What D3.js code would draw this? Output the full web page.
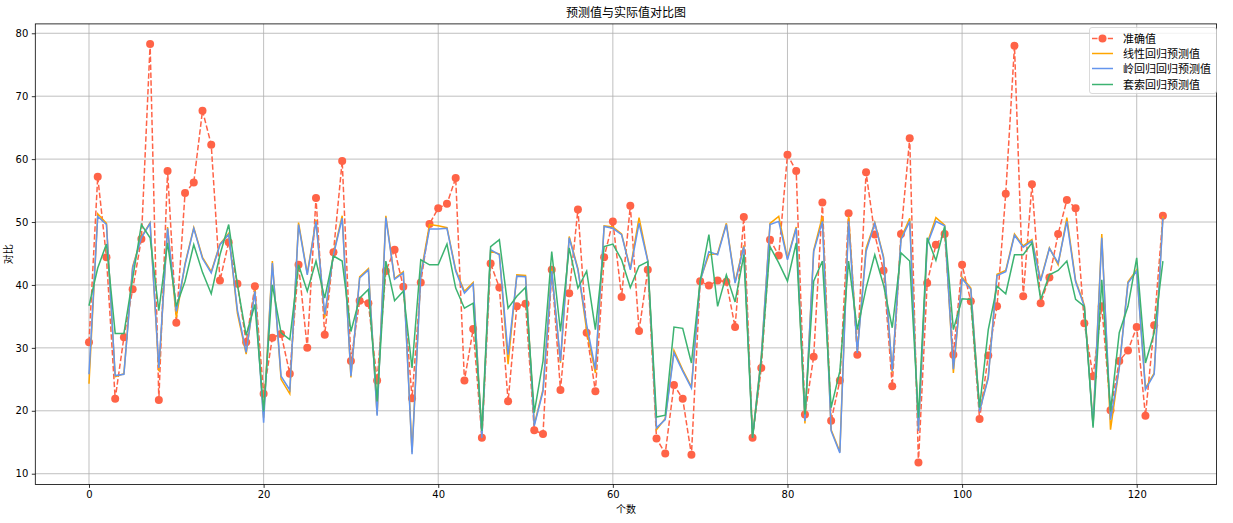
<!DOCTYPE html>
<html><head><meta charset="utf-8">
<script src="https://cdn.jsdelivr.net/npm/d3@7"></script>
<style>body{margin:0;background:#fff}svg{display:block}text{font-family:"DejaVu Sans",sans-serif}</style>
</head><body><svg id="c" width="1233" height="523"></svg>
<script>
const actual = [30.9,57.2,44.4,21.9,31.7,39.3,47.3,78.3,21.7,58.1,34.0,54.6,56.3,67.7,62.3,40.7,46.8,40.2,30.9,39.8,
22.7,31.6,32.2,25.9,43.2,30.0,53.8,32.1,45.2,59.7,27.9,37.5,37.1,24.8,42.2,45.6,39.7,22.0,40.4,49.7,
52.2,52.9,57.0,24.8,33.0,15.7,43.4,39.6,21.5,36.6,37.0,16.9,16.3,42.4,23.3,38.7,52.0,32.4,23.1,44.4,
50.1,38.1,52.6,32.7,42.4,15.6,13.2,24.1,21.9,13.0,40.6,39.9,40.7,40.5,33.3,50.8,15.7,26.8,47.2,44.7,
60.7,58.1,19.4,28.6,53.1,18.4,24.8,51.4,28.9,57.9,48.0,42.3,23.9,48.1,63.3,11.8,40.3,46.4,48.1,28.9,
43.2,37.4,18.7,28.8,36.6,54.5,78.0,38.2,56.0,37.1,41.2,48.1,53.5,52.2,33.9,25.5,36.6,20.1,27.9,29.6,
33.3,19.2,33.6,51.0];
const linear = [24.3,51.3,49.8,25.4,25.9,42.9,47.6,49.9,26.3,49.2,34.8,43.4,49.1,44.4,42.1,46.5,48.2,35.5,29.0,39.2,
18.9,43.8,25.0,22.7,49.9,41.8,50.3,34.8,45.0,51.0,25.3,41.3,42.6,19.4,51.0,41.0,42.1,13.4,41.7,49.6,
49.4,49.1,42.4,39.0,40.4,15.9,45.4,44.9,27.4,41.6,41.5,17.8,23.4,42.4,27.6,47.7,42.6,32.8,26.0,49.4,
49.2,48.1,42.6,50.7,43.9,17.0,18.8,29.6,26.5,23.8,40.8,44.8,45.0,49.8,40.5,46.3,15.9,28.6,49.8,50.9,
44.2,49.2,18.0,45.5,50.9,17.0,13.5,50.9,29.4,45.8,49.9,44.5,26.1,47.4,50.6,17.0,46.6,50.7,49.5,26.0,
41.2,39.5,20.1,25.4,41.7,42.3,48.1,46.2,47.2,40.8,45.9,43.2,50.7,40.7,36.8,17.8,48.1,17.0,26.9,40.5,
42.4,23.6,26.0,50.9];
const ridge = [25.8,50.9,49.6,25.6,25.8,42.7,47.5,49.8,26.8,49.0,35.8,43.2,49.0,44.2,41.9,46.4,48.0,36.0,29.3,39.0,
18.1,43.5,25.5,23.3,49.6,41.6,50.1,35.3,44.8,50.6,25.5,41.1,42.4,19.2,50.7,40.9,41.9,13.1,41.5,48.9,
48.9,49.0,42.2,38.7,40.2,15.7,45.6,44.8,28.9,41.4,41.3,17.6,23.1,42.2,27.9,47.5,42.4,33.7,26.6,49.3,
49.0,48.0,42.4,49.8,43.8,17.3,18.6,29.2,26.3,23.6,40.6,45.3,44.8,49.6,40.3,46.1,15.7,28.5,49.6,50.1,
44.0,49.0,18.4,45.3,50.1,16.8,13.3,50.1,29.2,45.3,49.8,44.3,26.3,47.2,50.1,16.8,46.4,50.1,49.4,26.6,
41.0,39.3,19.9,25.2,41.5,42.1,47.9,46.0,47.0,40.6,45.8,43.5,50.1,40.5,36.6,17.6,47.5,18.6,26.8,40.3,
42.2,23.4,25.8,50.6];
const lasso = [36.7,42.7,46.5,32.3,32.3,41.0,49.6,47.5,35.9,46.7,36.6,40.6,46.4,42.0,38.6,44.8,49.6,40.0,32.0,36.9,
19.9,40.0,32.4,31.3,43.2,39.0,43.8,37.9,44.6,43.8,32.6,37.9,39.3,21.5,43.8,37.5,39.0,26.8,44.0,43.2,
43.2,46.5,39.5,36.3,37.1,16.8,46.1,47.2,36.3,38.2,39.6,19.7,27.9,45.3,32.6,45.9,39.5,42.2,32.9,46.1,
46.5,44.0,39.6,43.0,43.7,19.0,19.3,33.3,33.1,27.6,40.6,48.0,36.6,41.6,37.3,44.8,15.7,28.0,46.1,43.5,
40.6,46.7,19.4,40.6,43.8,20.5,26.3,43.8,32.9,39.5,44.8,40.0,33.2,45.1,43.8,18.9,47.5,43.9,49.3,32.9,
37.8,37.7,20.5,32.9,39.8,38.6,44.8,44.8,46.7,37.7,41.6,42.3,43.8,37.7,36.6,17.3,40.8,19.9,32.4,36.6,
44.3,27.6,32.4,43.8];
const xTicks = [0,20,40,60,80,100,120];
const yTicks = [10,20,30,40,50,60,70,80];
const seriesNames = ["准确值","线性回归预测值","岭回归回归预测值","套索回归预测值"];
const title = "预测值与实际值对比图";
const xLabel = "个数";
const yLabel = "对比";

const svg = d3.select("#c");
const L = 35.3, R = 1216.6, T = 23.9, B = 484.4;
const x = d3.scaleLinear().domain([-6.15, 129.15]).range([L, R]);
const y = d3.scaleLinear().domain([8.30, 81.49]).range([B, T]);

// grid
svg.append("g").selectAll("line").data(xTicks).join("line")
  .attr("x1", d => x(d)).attr("x2", d => x(d)).attr("y1", T).attr("y2", B)
  .attr("stroke", "#b0b0b0").attr("stroke-width", 0.8);
svg.append("g").selectAll("line").data(yTicks).join("line")
  .attr("y1", d => y(d)).attr("y2", d => y(d)).attr("x1", L).attr("x2", R)
  .attr("stroke", "#b0b0b0").attr("stroke-width", 0.8);

// axes
const xa = svg.append("g").attr("transform", `translate(0,${B})`)
  .call(d3.axisBottom(x).tickValues(xTicks).tickSize(3.5).tickPadding(3.5).tickFormat(d3.format("d")));
const ya = svg.append("g").attr("transform", `translate(${L},0)`)
  .call(d3.axisLeft(y).tickValues(yTicks).tickSize(3.5).tickPadding(3.5).tickFormat(d3.format("d")));
[xa, ya].forEach(a => {
  a.select(".domain").remove();
  a.selectAll("text").attr("font-size", 10).attr("fill", "#000").style("font-family", "DejaVu Sans");
  a.selectAll("line").attr("stroke", "#000").attr("stroke-width", 0.8);
});

const line = d3.line().x((d, i) => x(i)).y(d => y(d));
const g = svg.append("g");
g.append("path").datum(actual).attr("d", line).attr("fill", "none")
  .attr("stroke", "#FF6347").attr("stroke-width", 1.5).attr("stroke-dasharray", "5.5,2.4");
g.selectAll("circle").data(actual).join("circle")
  .attr("cx", (d, i) => x(i)).attr("cy", d => y(d)).attr("r", 4).attr("fill", "#FF6347");
g.append("path").datum(linear).attr("d", line).attr("fill", "none").attr("stroke", "#FFA500").attr("stroke-width", 1.5);
g.append("path").datum(ridge).attr("d", line).attr("fill", "none").attr("stroke", "#6495ED").attr("stroke-width", 1.5);
g.append("path").datum(lasso).attr("d", line).attr("fill", "none").attr("stroke", "#3CB371").attr("stroke-width", 1.5);

// frame
svg.append("rect").attr("x", L).attr("y", T).attr("width", R - L).attr("height", B - T)
  .attr("fill", "none").attr("stroke", "#000").attr("stroke-width", 0.8);

// texts
svg.append("text").attr("x", (L + R) / 2).attr("y", 17).attr("text-anchor", "middle")
  .attr("font-size", 12).style("font-family", "Noto Sans CJK SC").text(title);
svg.append("text").attr("x", (L + R) / 2).attr("y", 513).attr("text-anchor", "middle")
  .attr("font-size", 10).style("font-family", "Noto Sans CJK SC").text(xLabel);
svg.append("text").attr("transform", `translate(12,${(T + B) / 2}) rotate(-90)`).attr("text-anchor", "middle")
  .attr("font-size", 10).style("font-family", "Noto Sans CJK SC").text(yLabel);

// legend
const lg = svg.append("g");
lg.append("rect").attr("x", 1089.5).attr("y", 27.5).attr("width", 127).attr("height", 66).attr("rx", 2.5)
  .attr("fill", "#fff").attr("fill-opacity", 0.8).attr("stroke", "#d0d0d0").attr("stroke-width", 0.8);
const colors = ["#FF6347", "#FFA500", "#6495ED", "#3CB371"];
const ly = [38.5, 53.5, 68.5, 84.5];
seriesNames.forEach((n, k) => {
  lg.append("line").attr("x1", 1092).attr("x2", 1113).attr("y1", ly[k]).attr("y2", ly[k])
    .attr("stroke", colors[k]).attr("stroke-width", 1.5)
    .attr("stroke-dasharray", k === 0 ? "5.5,2.4" : null);
  if (k === 0) lg.append("circle").attr("cx", 1102.5).attr("cy", ly[k]).attr("r", 4).attr("fill", colors[k]);
  lg.append("text").attr("x", 1123).attr("y", ly[k] + 4).attr("font-size", 11)
    .style("font-family", "Noto Sans CJK SC").text(n);
});
</script></body></html>
